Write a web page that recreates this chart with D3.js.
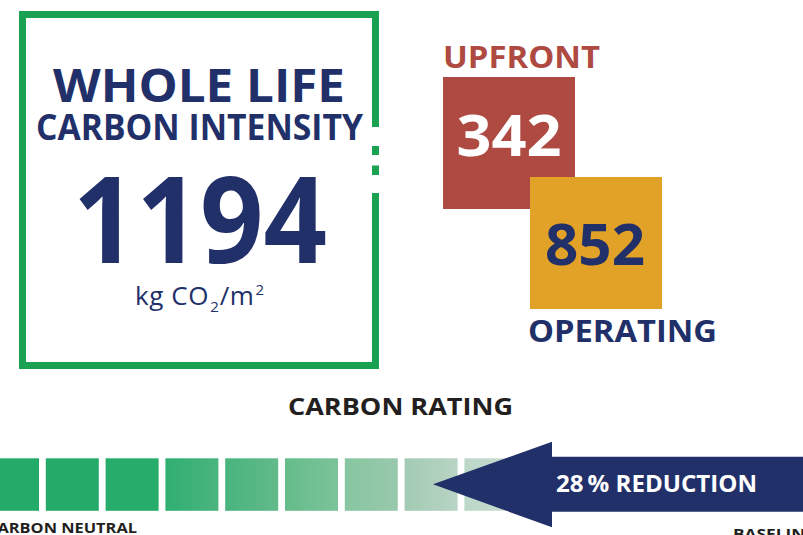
<!DOCTYPE html>
<html>
<head>
<meta charset="utf-8">
<script src="https://cdn.jsdelivr.net/npm/d3@7"></script>
<style>
  html, body { margin: 0; padding: 0; background: #fff; }
  svg { display: block; }
  text { font-family: "Open Sans", "DejaVu Sans", sans-serif; }
</style>
</head>
<body>
<div id="chart"></div>
<script>
// ---------------- DATA ----------------
const componentLabels = ["UPFRONT", "OPERATING"];
const componentValues = [342, 852];
const totalTitle = ["WHOLE LIFE", "CARBON INTENSITY"];
const unitParts = ["kg CO", "2", "/m", "2"];
const ratingTitle = "CARBON RATING";
const ratingBands = [1, 2, 3, 4, 5, 6, 7, 8, 9, 10, 11, 12];
const scaleEndLabels = ["CARBON NEUTRAL", "BASELINE"];
const reductionPct = 28;

// ---------------- STYLE ----------------
const W = 803, H = 535;
const navy = "#22306A", red = "#AE4A42", orange = "#E2A227", green = "#1AA152", ink = "#231F20";
const bandColors = [
  ["#24AB6A", "#24AB6A"], ["#24AB6A", "#24AB6A"], ["#26AC6B", "#27AC6C"],
  ["#30AF72", "#4AB57E"], ["#48B47D", "#63BA8A"], ["#64BC8A", "#7CC39A"],
  ["#86C6A0", "#9AC9AD"], ["#A2CBB3", "#B8D4C4"], ["#BCD7C8", "#C8DDD1"],
  ["#C8DDD1", "#D0E1D7"], ["#D0E1D7", "#D6E4DB"], ["#D6E4DB", "#DCE7E0"]
];

const total = d3.sum(componentValues);

const svg = d3.select("#chart").append("svg")
  .attr("width", W).attr("height", H)
  .attr("viewBox", `0 0 ${W} ${H}`);
const defs = svg.append("defs");

// ---------------- LEFT BOX ----------------
const box = { x0: 22.5, y0: 14.5, x1: 375.5, y1: 365.5, sw: 7 };
const borderPath = d3.path();
borderPath.moveTo(box.x1, 127);
borderPath.lineTo(box.x1, box.y0);
borderPath.lineTo(box.x0, box.y0);
borderPath.lineTo(box.x0, box.y1);
borderPath.lineTo(box.x1, box.y1);
borderPath.lineTo(box.x1, 193);
svg.append("path").attr("d", borderPath.toString())
  .attr("fill", "none").attr("stroke", green).attr("stroke-width", box.sw)
  .attr("stroke-linecap", "butt").attr("stroke-linejoin", "miter");
[[146, 155], [165.5, 175]].forEach(([a, b]) => {
  svg.append("rect").attr("x", box.x1 - box.sw / 2).attr("y", a)
    .attr("width", box.sw).attr("height", b - a).attr("fill", green);
});

function txt(s, x, y, size, weight, fill, len, anchor) {
  const t = svg.append("text").attr("x", x).attr("y", y)
    .attr("font-size", size).attr("font-weight", weight).attr("fill", fill)
    .attr("text-anchor", anchor || "middle").text(s);
  if (len) t.attr("textLength", len).attr("lengthAdjust", "spacingAndGlyphs");
  return t;
}

txt(totalTitle[0], 199, 101.5, 46, 700, navy, 292);
txt(totalTitle[1], 199.5, 140, 35, 700, navy, 327);
txt(d3.format("d")(total), 200, 263, 120, 700, navy, 254);

// unit: pieces laid out one after another
const unitStyle = [
  { size: 26, dy: 0, ls: 0.6 }, { size: 15, dy: 7, ls: 0 }, { size: 26, dy: 0, ls: 0.6 }, { size: 15, dy: -10, ls: 0 }
];
let ux = 135;
unitParts.forEach((p, i) => {
  const t = svg.append("text").attr("x", ux).attr("y", 305 + unitStyle[i].dy)
    .attr("text-anchor", "start").attr("font-size", unitStyle[i].size)
    .attr("letter-spacing", unitStyle[i].ls)
    .attr("font-weight", 400).attr("fill", navy).text(p);
  ux += t.node().getComputedTextLength() + 1;
});

// ---------------- COMPONENT SQUARES ----------------
const comps = componentLabels.map((l, i) => ({ label: l, value: componentValues[i] }));
const sq = [
  { x: 443, y: 77, s: 132, fill: red, num: "#fff", numX: 509, numY: 156, numLen: 105,
    lab: red, labX: 521.5, labY: 68, labLen: 157 },
  { x: 530, y: 177, s: 132, fill: orange, num: navy, numX: 595, numY: 265, numLen: 100,
    lab: navy, labX: 622.5, labY: 341.5, labLen: 189 }
];
comps.forEach((c, i) => {
  const p = sq[i];
  svg.append("rect").attr("x", p.x).attr("y", p.y).attr("width", p.s).attr("height", p.s).attr("fill", p.fill);
  txt(String(c.value), p.numX, p.numY, 57, 700, p.num, p.numLen);
  txt(c.label, p.labX, p.labY, 30, 700, p.lab, p.labLen);
});

// ---------------- CARBON RATING ----------------
txt(ratingTitle, 400.5, 415, 23, 700, ink, 225);

const bandX = d3.scaleLinear().domain([1, 2]).range([-14, 45.8]);
const bandW = 53, bandY = 458.3, bandH = 52.5;
ratingBands.forEach((b, i) => {
  const g = defs.append("linearGradient").attr("id", "bg" + i)
    .attr("x1", "0%").attr("x2", "100%").attr("y1", "0%").attr("y2", "0%");
  g.append("stop").attr("offset", "0%").attr("stop-color", bandColors[i][0]);
  g.append("stop").attr("offset", "100%").attr("stop-color", bandColors[i][1]);
});
svg.selectAll("rect.band").data(ratingBands).join("rect")
  .attr("class", "band")
  .attr("x", d => bandX(d)).attr("y", bandY)
  .attr("width", bandW).attr("height", bandH)
  .attr("fill", (d, i) => `url(#bg${i})`);

// arrow
const arrow = d3.path();
arrow.moveTo(433, 484.3);
arrow.lineTo(552, 441.7);
arrow.lineTo(552, 456.7);
arrow.lineTo(W + 5, 456.7);
arrow.lineTo(W + 5, 511.7);
arrow.lineTo(552, 511.7);
arrow.lineTo(552, 527.3);
arrow.closePath();
svg.append("path").attr("d", arrow.toString()).attr("fill", navy);

txt(`${reductionPct}\u2009% REDUCTION`, 656.5, 491.7, 23, 700, "#fff", 201);

txt(scaleEndLabels[0], 137, 532.5, 15, 700, ink, 150, "end");
txt(scaleEndLabels[1], 733, 538.5, 15, 700, ink, 82, "start");
</script>
</body>
</html>
